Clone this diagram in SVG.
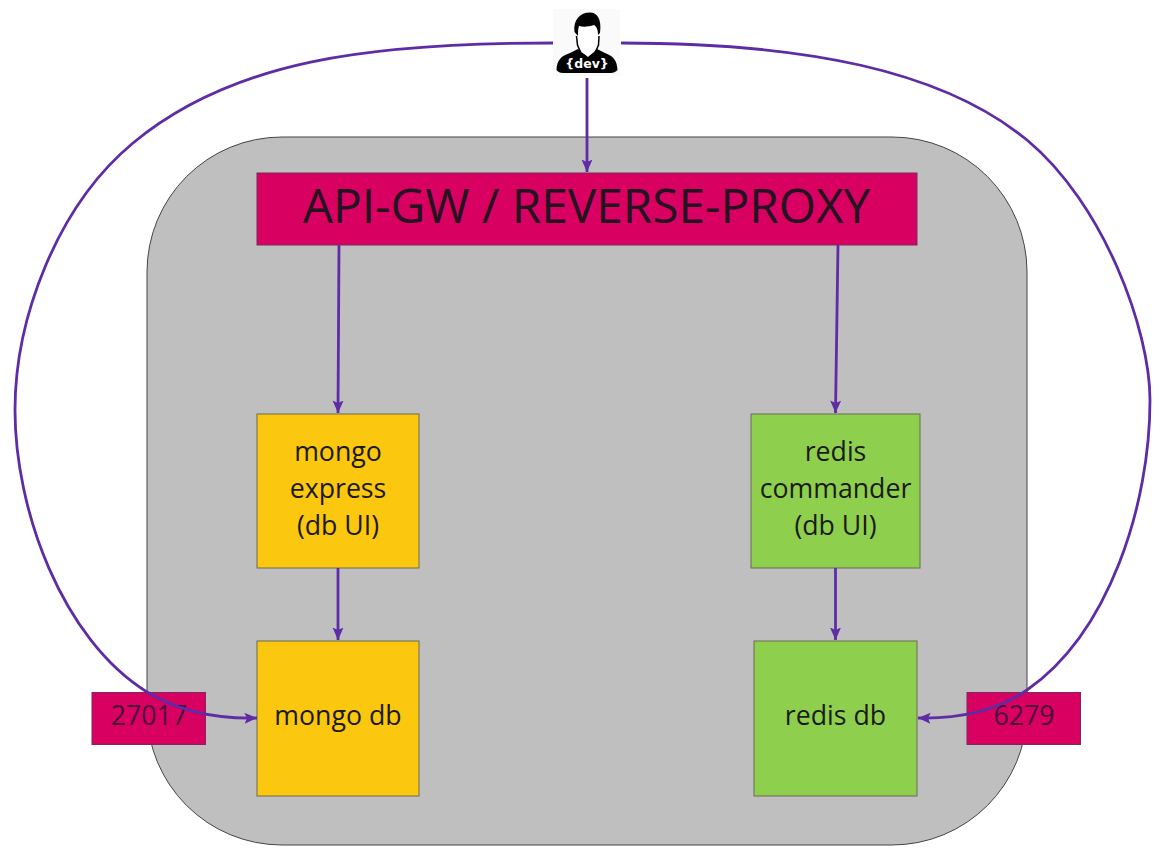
<svg xmlns="http://www.w3.org/2000/svg" width="1163" height="859" viewBox="0 0 1163 859">
<style>
text{font-family:"Open Sans","Noto Sans",sans-serif;fill:#1c1a14;text-anchor:middle}
.t{font-size:26.7px}
.p{fill:#4a0b3c}
.box{stroke:#6b6b55;stroke-width:1}
.c{fill:none;stroke:#5e2ca5;stroke-width:2.8}
.y{fill:#fbc70f}.g{fill:#8ed04e}.m{fill:#d80061;stroke:#7a2a5e;stroke-width:1}
</style>
<defs><marker id="a" markerUnits="userSpaceOnUse" markerWidth="14" markerHeight="12" refX="12.500" refY="5.500" orient="auto"><path d="M0 0L12.500 5.500L0 11L2.500 5.500Z" fill="#5e2ca5"/></marker></defs>
<rect width="1163" height="859" fill="#fff"/>
<g id="cluster"><rect x="147" y="137" width="880" height="708" rx="135" ry="135" fill="#bfbfbf" stroke="#444" stroke-width="1"/></g>
<g id="gateway"><rect x="257" y="173" width="660" height="72" class="m"/><text x="586.500" y="223" style="font-size:47.800px;fill:#231420">API-GW / REVERSE-PROXY</text></g>
<g id="mongo-express"><rect x="257" y="414" width="162" height="154" class="y box"/><text class="t" x="338" y="461">mongo</text><text class="t" x="338" y="498">express</text><text class="t" x="338" y="535">(db UI)</text></g>
<g id="redis-commander"><rect x="751" y="414" width="169" height="154" class="g box"/><text class="t" x="835.500" y="461">redis</text><text class="t" x="835.500" y="498">commander</text><text class="t" x="835.500" y="535">(db UI)</text></g>
<g id="mongo-db"><rect x="257" y="641" width="162" height="155" class="y box"/><text class="t" x="338" y="725">mongo db</text></g>
<g id="redis-db"><rect x="754" y="641" width="163" height="155" class="g box"/><text class="t" x="835.500" y="725">redis db</text></g>
<g id="port-27017"><rect x="92" y="692.500" width="113.500" height="52" class="m"/><text class="t p" x="149" y="725">27017</text></g>
<g id="port-6279"><rect x="967" y="692.500" width="113.500" height="52" class="m"/><text class="t p" x="1024" y="725">6279</text></g>
<g id="dev">
<rect x="553" y="9" width="67" height="67" fill="#fafafa"/>
<path d="M556.500 70C557 60 561 56 570 53L578 49L588 57L597 49L605 53C613 56 617 60 617.500 70C616 72 613 73 611 73L563 73C560 73 558 72 556.500 70Z" fill="#000"/>
<path d="M576 32C575 24 581 20 588 23C592 25 596 25 599 26L599 44L594 52L588 56L581 52L577 45Z" fill="#fff"/>
<path d="M574.500 32C573 20 580 12.500 590 12.500C597 12.500 602 19 600 33L598 35C598 30 597 27 594 25C588 27 583 27 579 26C578 29 578 32 578 36Z" fill="#000"/>
<path d="M576.500 36L577.500 45L581 53L588 59L595 53L598.500 45L599 36" fill="none" stroke="#000" stroke-width="1.500"/>
<text x="587" y="68" style="font-size:12.500px;font-weight:700;fill:#fff;font-family:'DejaVu Sans',sans-serif">{dev}</text>
</g>
<g id="connectors">
<path class="c" d="M587 78V172" marker-end="url(#a)"/>
<path class="c" d="M339 245L338 413" marker-end="url(#a)"/>
<path class="c" d="M838 245L835.500 413" marker-end="url(#a)"/>
<path class="c" d="M338 568V640" marker-end="url(#a)"/>
<path class="c" d="M835.500 568V640" marker-end="url(#a)"/>
<path class="c" d="M553 43C370 43 233 60 133 143C56 207 15 320 15 410C15 510 62 639 147 692C180 712 218 719 257 718" marker-end="url(#a)"/>
<path class="c" d="M621 43C804 43 942 70 1027 140C1104 204 1150 330 1150 400C1150 505 1109 633 1027 690C995 712 955 719 918 718" marker-end="url(#a)"/>
</g>
</svg>
